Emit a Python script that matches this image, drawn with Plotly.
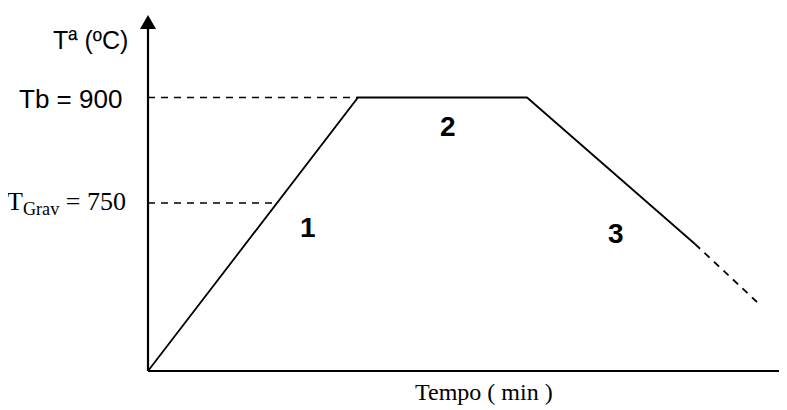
import plotly.graph_objects as go

# Schematic heat-treatment profile (arbitrary schematic units, not to scale)
time_solid = [0, 210, 379, 547]
temp_solid = [0, 273.5, 273.5, 127]
time_dash = [547, 609]
temp_dash = [127, 69]

level_tb = 273.5      # Tb = 900
level_grav = 168      # TGrav = 750
grav_cross = level_grav / temp_solid[1] * time_solid[1]

tick_labels = ["Tb = 900", "T<sub>Grav</sub> = 750"]
stage_labels = ["1", "2", "3"]
stage_x = [160, 300, 468]
stage_y = [144, 245, 138]

x_title = "Tempo ( min )"
y_title = "Tª (ºC)"

SANS = "Liberation Sans, Arial, sans-serif"
SERIF = "Liberation Serif, Times New Roman, serif"

fig = go.Figure()

# guide dashed lines
fig.add_trace(go.Scatter(x=[0, time_solid[1]], y=[level_tb, level_tb], mode="lines",
                         line=dict(color="black", width=1.6, dash="7px,6px"), hoverinfo="skip"))
fig.add_trace(go.Scatter(x=[0, grav_cross], y=[level_grav, level_grav], mode="lines",
                         line=dict(color="black", width=1.6, dash="7px,6px"), hoverinfo="skip"))
# profile
fig.add_trace(go.Scatter(x=time_solid, y=temp_solid, mode="lines",
                         line=dict(color="black", width=1.8), hoverinfo="skip"))
fig.add_trace(go.Scatter(x=time_dash, y=temp_dash, mode="lines",
                         line=dict(color="black", width=1.8, dash="7px,6px"), hoverinfo="skip"))

shapes = [
    # x axis
    dict(type="line", x0=0, y0=0, x1=637, y1=0, line=dict(color="black", width=2.2)),
    # y axis
    dict(type="line", x0=0, y0=0, x1=0, y1=343, line=dict(color="black", width=2.2)),
    # y arrow head
    dict(type="path", path="M -8 342 L 8 342 L 0 356 Z", fillcolor="black", line=dict(width=0)),
    # x axis end bar
    dict(type="rect", x0=636, x1=639, y0=-8, y1=8, fillcolor="black", line=dict(width=0)),
]

annotations = [
    dict(x=-58, y=331, text=y_title, showarrow=False, xanchor="center", yanchor="middle",
         font=dict(family=SANS, size=25, color="black")),
    dict(x=-24, y=level_tb - 1, text=tick_labels[0], showarrow=False, xanchor="right", yanchor="middle",
         font=dict(family=SANS, size=26, color="black")),
    dict(x=-20, y=level_grav, text=tick_labels[1], showarrow=False, xanchor="right", yanchor="middle",
         font=dict(family=SERIF, size=26, color="black")),
    dict(x=265, y=-21, text=x_title, showarrow=False, xanchor="left", yanchor="middle",
         font=dict(family=SERIF, size=24, color="black")),
]
for t, sx, sy in zip(stage_labels, stage_x, stage_y):
    annotations.append(dict(x=sx, y=sy, text="<b>" + t + "</b>", showarrow=False,
                            xanchor="center", yanchor="middle",
                            font=dict(family=SANS, size=28, color="black")))

# the page body has an 8px margin, so the figure is sized to fit the window
fig.update_layout(
    width=779, height=402, autosize=False,
    margin=dict(l=0, r=0, t=0, b=0, pad=0),
    paper_bgcolor="white", plot_bgcolor="white",
    showlegend=False,
    xaxis=dict(range=[-140, 639], visible=False, fixedrange=True),
    yaxis=dict(range=[-39, 363], visible=False, fixedrange=True),
    shapes=shapes, annotations=annotations,
)

fig.write_html("out.html")
